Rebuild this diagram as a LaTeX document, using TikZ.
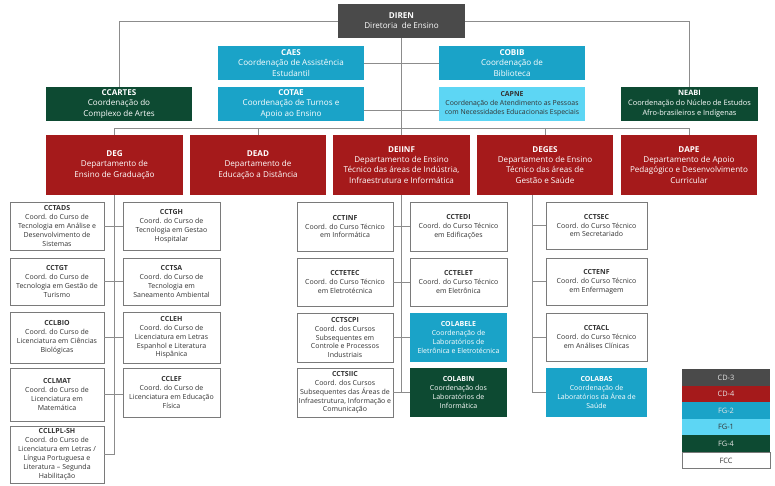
\documentclass[tikz,border=0pt]{standalone}
\usepackage{fontspec}
\setmainfont{Open Sans}
\definecolor{cdthree}{HTML}{4A4A4A}
\definecolor{cdfour}{HTML}{A51A1B}
\definecolor{fgtwo}{HTML}{1AA3C8}
\definecolor{fgone}{HTML}{5DD6F4}
\definecolor{fgfour}{HTML}{0D4A32}
\definecolor{linec}{HTML}{8C8C8C}
\definecolor{bordc}{HTML}{7A7A7A}
\definecolor{txt}{HTML}{333333}
\begin{document}
\begin{tikzpicture}[x=1pt,y=-1pt,
  base/.style={rectangle, inner sep=0.5pt, align=center, anchor=center},
  big/.style={base, font=\fontsize{8.1}{10.2}\selectfont},
  mid/.style={base, font=\fontsize{7.4}{9.8}\selectfont},
  tiny/.style={base, font=\fontsize{6.9}{8.8}\selectfont},
  small/.style={base, font=\fontsize{7.0}{8.9}\selectfont},
  bcd3/.style={fill=cdthree, text=white},
  bcd4/.style={fill=cdfour, text=white},
  bfg2/.style={fill=fgtwo, text=white},
  bfg1/.style={fill=fgone, text=txt},
  bfg4/.style={fill=fgfour, text=white},
  bfcc/.style={fill=white, draw=bordc, line width=0.7pt, text=txt},
  conn/.style={draw=linec, line width=0.9pt},
  legend/.style={base, minimum width=88pt, minimum height=16.5pt, font=\fontsize{7.4}{8}\selectfont}
]
\useasboundingbox (0,0) rectangle (775,486);

% top level
\node[big,bcd3,minimum width=127pt,minimum height=34pt] (DIREN) at (401.5,21) {\textbf{DIREN}\\Diretoria\ \ de Ensino};
\node[big,bfg2,minimum width=146pt,minimum height=34pt] (CAES) at (291,63) {\textbf{CAES}\\Coordenação de Assistência\\Estudantil};
\node[big,bfg2,minimum width=146pt,minimum height=34pt] (COTAE) at (291,104) {\textbf{COTAE}\\Coordenação de Turnos e\\Apoio ao Ensino};
\node[big,bfg2,minimum width=146pt,minimum height=34pt] (COBIB) at (512,63) {\textbf{COBIB}\\Coordenação de\\Biblioteca};
\node[tiny,bfg1,minimum width=146pt,minimum height=34pt] (CAPNE) at (512,104) {\textbf{CAPNE}\\Coordenação de Atendimento as Pessoas\\com Necessidades Educacionais Especiais};
\node[big,bfg4,minimum width=146pt,minimum height=34pt] (CCARTES) at (119,104) {\textbf{CCARTES}\\Coordenação do\\Complexo de Artes};
\node[mid,bfg4,minimum width=137pt,minimum height=34pt] (NEABI) at (689.5,104) {\textbf{NEABI}\\Coordenação do Núcleo de Estudos\\Afro-brasileiros e Indígenas};

% departments
\node[big,bcd4,minimum width=137pt,minimum height=60pt] (DEG) at (114.5,165) {\textbf{DEG}\\Departamento de\\Ensino de Graduação};
\node[big,bcd4,minimum width=136pt,minimum height=60pt] (DEAD) at (258,165) {\textbf{DEAD}\\Departamento de\\Educação a Distância};
\node[big,bcd4,minimum width=137pt,minimum height=60pt] (DEIINF) at (401.5,165) {\textbf{DEIINF}\\Departamento de Ensino\\Técnico das áreas de Indústria,\\Infraestrutura e Informática};
\node[big,bcd4,minimum width=136pt,minimum height=60pt] (DEGES) at (545,165) {\textbf{DEGES}\\Departamento de Ensino\\Técnico das áreas de\\Gestão e Saúde};
\node[big,bcd4,minimum width=136pt,minimum height=60pt] (DAPE) at (689,165) {\textbf{DAPE}\\Departamento de Apoio\\Pedagógico e Desenvolvimento\\Curricular};

% DEG children
\node[small,bfcc,minimum width=94pt,minimum height=48pt] (CCTADS) at (57,226) {\textbf{CCTADS}\\Coord. do Curso de\\Tecnologia em Análise e\\Desenvolvimento de\\Sistemas};
\node[small,bfcc,minimum width=97pt,minimum height=48pt] (CCTGH) at (171.5,226) {\textbf{CCTGH}\\Coord. do Curso de\\Tecnologia em Gestao\\Hospitalar};
\node[small,bfcc,minimum width=94pt,minimum height=47pt] (CCTGT) at (57,281.5) {\textbf{CCTGT}\\Coord. do Curso de\\Tecnologia em Gestão de\\Turismo};
\node[small,bfcc,minimum width=97pt,minimum height=47pt] (CCTSA) at (171.5,281.5) {\textbf{CCTSA}\\Coord. do Curso de\\Tecnologia em\\Saneamento Ambiental};
\node[small,bfcc,minimum width=94pt,minimum height=51pt] (CCLBIO) at (57,337.5) {\textbf{CCLBIO}\\Coord. do Curso de\\Licenciatura em Ciências\\Biológicas};
\node[small,bfcc,minimum width=97pt,minimum height=51pt] (CCLEH) at (171.5,337.5) {\textbf{CCLEH}\\Coord. do Curso de\\Licenciatura em Letras\\Espanhol e Literatura\\Hispânica};
\node[small,bfcc,minimum width=94pt,minimum height=53pt] (CCLMAT) at (57,394.5) {\textbf{CCLMAT}\\Coord. do Curso de\\Licenciatura em\\Matemática};
\node[small,bfcc,minimum width=97pt,minimum height=49pt] (CCLEF) at (171.5,392.5) {\textbf{CCLEF}\\Coord. do Curso de\\Licenciatura em Educação\\Física};
\node[small,bfcc,minimum width=94pt,minimum height=57pt] (CCLLPL) at (57,454.5) {\textbf{CCLLPL-SH}\\Coord. do Curso de\\Licenciatura em Letras /\\Língua Portuguesa e\\Literatura – Segunda\\Habilitação};

% DEIINF children
\node[small,bfcc,minimum width=96pt,minimum height=49pt] (CCTINF) at (345,226.5) {\textbf{CCTINF}\\Coord. do Curso Técnico\\em Informática};
\node[small,bfcc,minimum width=97pt,minimum height=49pt] (CCTEDI) at (458.5,226.5) {\textbf{CCTEDI}\\Coord. do Curso Técnico\\em Edificações};
\node[small,bfcc,minimum width=96pt,minimum height=48pt] (CCTETEC) at (345,282) {\textbf{CCTETEC}\\Coord. do Curso Técnico\\em Eletrotécnica};
\node[small,bfcc,minimum width=97pt,minimum height=48pt] (CCTELET) at (458.5,282) {\textbf{CCTELET}\\Coord. do Curso Técnico\\em Eletrônica};
\node[small,bfcc,minimum width=96pt,minimum height=49pt] (CCTSCPI) at (345,337.5) {\textbf{CCTSCPI}\\Coord. dos Cursos\\Subsequentes em\\Controle e Processos\\Industriais};
\node[small,bfg2,minimum width=97pt,minimum height=49pt] (COLABELE) at (458.5,337.5) {\textbf{COLABELE}\\Coordenação de\\Laboratórios de\\Eletrônica e Eletrotécnica};
\node[small,bfcc,minimum width=96pt,minimum height=49pt] (CCTSIIC) at (345,392.5) {\textbf{CCTSIIC}\\Coord. dos Cursos\\Subsequentes das Áreas de\\Infraestrutura, Informação e\\Comunicação};
\node[small,bfg4,minimum width=97pt,minimum height=49pt] (COLABIN) at (458.5,392.5) {\textbf{COLABIN}\\Coordenação dos\\Laboratórios de\\Informática};

% DEGES children
\node[small,bfcc,minimum width=101pt,minimum height=47pt] (CCTSEC) at (596.5,225.5) {\textbf{CCTSEC}\\Coord. do Curso Técnico\\em Secretariado};
\node[small,bfcc,minimum width=101pt,minimum height=47pt] (CCTENF) at (596.5,281.5) {\textbf{CCTENF}\\Coord. do Curso Técnico\\em Enfermagem};
\node[small,bfcc,minimum width=101pt,minimum height=48pt] (CCTACL) at (596.5,337) {\textbf{CCTACL}\\Coord. do Curso Técnico\\em Análises Clínicas};
\node[small,bfg2,minimum width=101pt,minimum height=49pt] (COLABAS) at (596.5,392.5) {\textbf{COLABAS}\\Coordenação de\\Laboratórios da Área de\\Saúde};

% legend
\node[legend,fill=cdthree,text=white!90!black] (L1) at (726,377.5) {CD-3};
\node[legend,fill=cdfour,text=white!90!black] (L2) at (726,394) {CD-4};
\node[legend,fill=fgtwo,text=white!90!black] (L3) at (726,410.5) {FG-2};
\node[legend,fill=fgone,text=txt] (L4) at (726,427) {FG-1};
\node[legend,fill=fgfour,text=white!90!black] (L5) at (726,443.5) {FG-4};
\node[legend,fill=white,draw=bordc,line width=0.6pt,text=txt] (L6) at (726,460.5) {FCC};

% connectors
\coordinate (bus) at (0,128);
\coordinate (l2) at (0,110);
\coordinate (gx) at (532,0);
\draw[conn] (DIREN.west) -| (CCARTES.north);
\draw[conn] (DIREN.east) -| (NEABI.north);
\draw[conn] (DIREN.south) -- (DEIINF.north);
\draw[conn] (CAES.east) -- (COBIB.west);
\draw[conn] (COTAE.east |- l2) -- (CAPNE.west |- l2);
\draw[conn] (DEG.north) -- (DEG.north |- bus) -| (DAPE.north);
\draw[conn] (DEAD.north) -- (DEAD.north |- bus);
\draw[conn] (DEGES.north) -- (DEGES.north |- bus);
% DEG
\draw[conn] (DEG.south) -- (DEG.south |- CCLLPL.east) -- (CCLLPL.east);
\draw[conn] (CCTADS.east) -- (CCTGH.west);
\draw[conn] (CCTGT.east) -- (CCTSA.west);
\draw[conn] (CCLBIO.east) -- (CCLEH.west);
\draw[conn] (CCLMAT.east) -- (CCLEF.west |- CCLMAT.east);
% DEIINF
\draw[conn] (DEIINF.south) -- (DEIINF.south |- CCTSIIC.east);
\draw[conn] (CCTINF.east) -- (CCTEDI.west);
\draw[conn] (CCTETEC.east) -- (CCTELET.west);
\draw[conn] (CCTSCPI.east) -- (COLABELE.west);
\draw[conn] (CCTSIIC.east) -- (COLABIN.west);
% DEGES
\draw[conn] (DEGES.south -| gx) -- (gx |- COLABAS.west) -- (COLABAS.west);
\draw[conn] (gx |- CCTSEC.west) -- (CCTSEC.west);
\draw[conn] (gx |- CCTENF.west) -- (CCTENF.west);
\draw[conn] (gx |- CCTACL.west) -- (CCTACL.west);
\end{tikzpicture}
\end{document}
